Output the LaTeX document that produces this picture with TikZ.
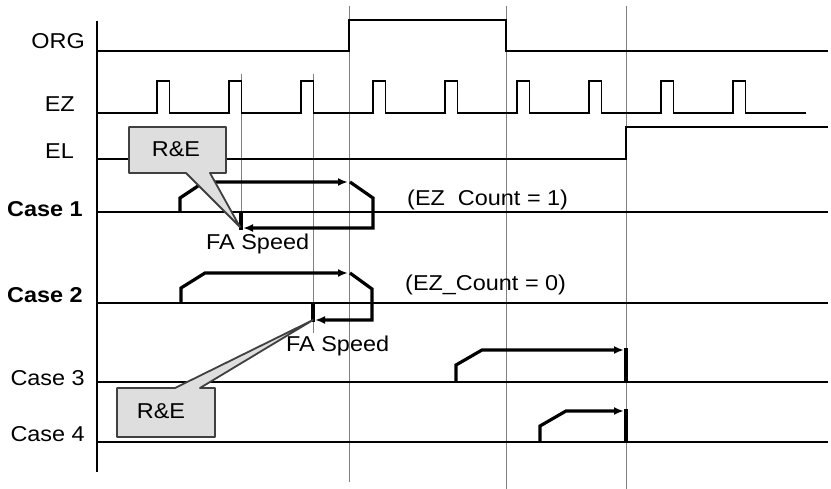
\documentclass[tikz,border=0pt]{standalone}
\usepackage{fontspec}
\setmainfont{Liberation Sans}[FakeStretch=1.09]
\usetikzlibrary{arrows.meta}
\begin{document}
\begin{tikzpicture}[x=1pt,y=-1pt,
  sig/.style={line width=1.6pt, black},
  guide/.style={line width=1pt, black!50},
  prof/.style={line width=3.2pt, black},
  arr/.style={-{Latex[length=10pt,width=8pt]}},
  lab/.style={font=\fontsize{21.5}{26}\selectfont, inner sep=0pt},
  blab/.style={font=\fontsize{21.5}{26}\selectfont\bfseries, inner sep=0pt},
  callout/.style={fill=black!13, draw=black!75, line width=1.8pt, line join=round},
]
\useasboundingbox (0,0) rectangle (831,489);
\fill[white] (0,0) rectangle (831,489);

% guide lines
\draw[guide] (349,6) -- (349,482);
\draw[guide] (506,6) -- (506,489);
\draw[guide] (626,6) -- (626,489);
\draw[guide] (241,74) -- (241,228);
\draw[guide] (313,74) -- (313,333);

% axis
\draw[line width=1.8pt] (97,21) -- (97,472);

% signals
\draw[sig] (97,51) -- (349,51) -- (349,20) -- (506,20) -- (506,51) -- (828,51);
\draw[sig] (97,113) \foreach \p in {157,229,...,733} { -- (\p,113) -- (\p,81) -- (\p+12.5,81) -- (\p+12.5,113) } -- (806,113);
\draw[sig] (97,159) -- (626,159) -- (626,127) -- (828,127);
\draw[sig] (97,212) -- (828,212);
\draw[sig] (97,303) -- (828,303);
\draw[sig] (97,382) -- (828,382);
\draw[sig] (97,442) -- (828,442);

% labels
\node[lab, anchor=base east] (org) at (85,49) {ORG};
\node[lab, anchor=base east] (ez) at (75,112) {EZ};
\node[lab, anchor=base east] (el) at (74,159) {EL};
\node[blab, anchor=base east] (c1) at (83,217) {Case 1};
\node[blab, anchor=base east] (c2) at (83,303) {Case 2};
\node[lab, anchor=base east] (c3) at (85,386) {Case 3};
\node[lab, anchor=base east] (c4) at (85,441) {Case 4};

% case 1 profile
\draw[prof,arr] (180,212) -- (180,198) -- (204,182) -- (348,182);
\draw[prof,arr] (350,182) -- (373,198) -- (373,228) -- (243,228);
\draw[prof] (241,211) -- (241,229.6);

% case 2 profile
\draw[prof,arr] (181,303) -- (181,288) -- (205,273) -- (348,273);
\draw[prof,arr] (350,273) -- (372,289) -- (372,320) -- (315,320);
\draw[prof] (313,302) -- (313,321.6);

% case 3 profile
\draw[prof,arr] (456,382) -- (456,365) -- (482,350) -- (624,350);
\draw[prof] (626,348.4) -- (626,382);

% case 4 profile
\draw[prof,arr] (540,442) -- (540,426) -- (566,411) -- (624,411);
\draw[prof] (626,409.4) -- (626,442);

% texts
\node[lab, anchor=base west] (fa1) at (206,250) {FA Speed};
\node[lab, anchor=base west] (fa2) at (286,352) {FA Speed};
\node[lab, anchor=base west] (ez1) at (407,206) {(EZ\ \ Count = 1)};
\node[lab, anchor=base west] (ez0) at (405,291) {(EZ\_Count = 0)};

% callouts
\draw[callout] (129,127) -- (226,127) -- (226,173) -- (210,173) -- (240,227) -- (186,173) -- (129,173) -- cycle;
\node[lab, anchor=base] (re1) at (176,157) {R\&E};
\draw[callout] (117,388) -- (175,388) -- (313,320) -- (200,388) -- (215,388) -- (215,437) -- (117,437) -- cycle;
\node[lab, anchor=base] (re2) at (161,418) {R\&E};
\end{tikzpicture}
\end{document}
